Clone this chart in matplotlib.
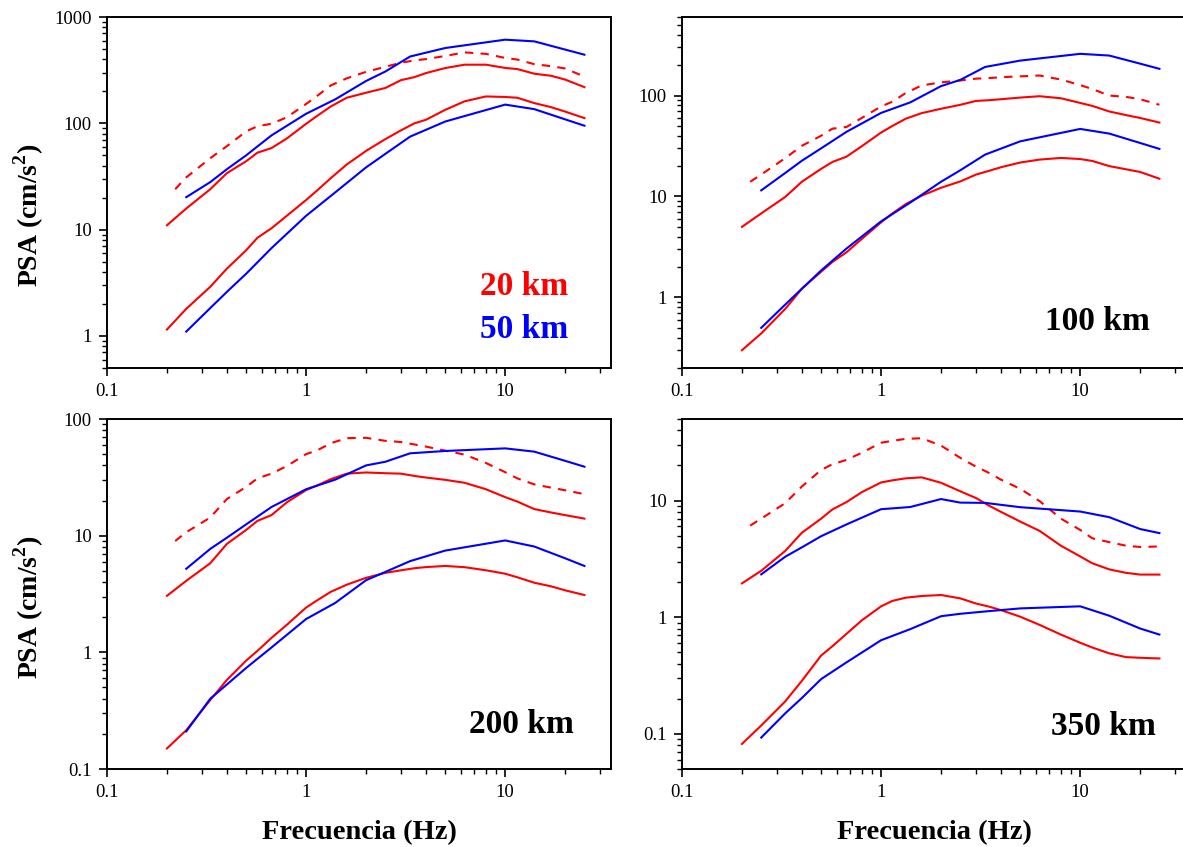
import numpy as np
import matplotlib
matplotlib.use('Agg')
import matplotlib.pyplot as plt
from matplotlib.ticker import LogLocator, FuncFormatter, NullFormatter

plt.rcParams['font.family'] = ['Liberation Serif', 'DejaVu Serif']
plt.rcParams['mathtext.fontset'] = 'custom'
plt.rcParams['mathtext.rm'] = 'Liberation Serif'
plt.rcParams['mathtext.bf'] = 'Liberation Serif:bold'

# frequency grids (Hz)
F_RED = [0.2, 0.25, 0.33, 0.4, 0.5, 0.57, 0.67, 0.8, 1.0, 1.14, 1.33, 1.6, 2.0,
         2.5, 3.0, 3.5, 4.0, 5.0, 6.25, 8.0, 10.0, 11.5, 14.0, 17.0, 20.0, 25.0]
F_DASH = [0.22] + F_RED[1:]
F_BLUE = [0.25, 0.33, 0.4, 0.5, 0.67, 1.0, 1.4, 2.0, 2.5, 3.33, 5.0, 10.0, 14.0, 20.0, 25.0]

# PSA (cm/s2) -- 20 km (red) and 50 km (blue)
r20_hi = [11, 15.8, 24, 34, 44, 53, 58.5, 72, 99, 118, 144, 174, 194, 215, 255, 272,
          297, 331, 356, 356, 332, 324, 293, 280, 258, 219]
r20_lo = [1.15, 1.8, 2.9, 4.3, 6.4, 8.4, 10.3, 13.5, 19, 23.5, 30.5, 41, 55, 71, 86, 100,
          108, 134, 161, 179, 177, 174, 155, 142, 129, 112]
r20_ds = [24, 31, 47, 61, 84, 94, 99, 114, 152, 182, 227, 265, 305, 340, 372, 390,
          402, 430, 465, 450, 412, 398, 360, 345, 328, 275]
b50_hi = [20.2, 28, 37, 50, 77, 123, 168, 250, 307, 425, 511, 612, 590, 494, 442]
b50_lo = [1.1, 1.83, 2.6, 3.85, 6.7, 13.5, 22.4, 38.5, 51.6, 75, 104, 150, 136, 109, 95]

# 100 km
r100_hi = [5.0, 6.8, 9.9, 14, 18.8, 22, 24.8, 31.5, 43, 50, 59, 67, 74, 81, 88.5, 90,
           92, 95.5, 98.5, 94, 84.5, 79, 69.5, 64, 60, 54]
r100_lo = [0.3, 0.44, 0.77, 1.22, 1.8, 2.25, 2.8, 3.8, 5.55, 6.8, 8.4, 10.2, 12.2, 14.1,
           16.5, 18, 19.5, 21.7, 23.2, 24.1, 23.5, 22.5, 20, 18.6, 17.5, 15]
r100_ds = [14, 16.5, 24, 31.8, 40, 47, 48.8, 60, 78, 87, 106, 126, 135, 141, 147, 149,
           152, 155, 158, 144, 127, 116, 100, 97, 92, 81]
b100_hi = [11.5, 17.1, 22.6, 30, 43.7, 67.3, 85.5, 124, 143, 192, 222, 259, 249, 207, 184]
b100_lo = [0.5, 0.85, 1.22, 1.85, 3.05, 5.67, 8.7, 14, 18.2, 26, 35.2, 46.7, 42, 33.9, 29.6]

# 200 km
r200_hi = [3.05, 4.1, 5.8, 8.5, 11.2, 13.4, 15, 19.3, 24.6, 27, 30.5, 34, 34.8, 34.3,
           34, 32.5, 31.5, 30.1, 28.4, 25, 21.4, 19.6, 16.9, 15.8, 15, 14]
r200_lo = [0.15, 0.215, 0.39, 0.58, 0.85, 1.03, 1.33, 1.72, 2.42, 2.8, 3.3, 3.8, 4.35,
           4.8, 5.05, 5.26, 5.38, 5.5, 5.37, 5.05, 4.72, 4.4, 3.95, 3.68, 3.4, 3.1]
r200_ds = [9, 10.7, 14.3, 20.6, 26.2, 31, 34, 39.5, 50, 54, 62, 68.5, 69, 65, 63.5,
           60.5, 58, 53.5, 49.5, 42, 35, 31, 27.5, 25.8, 24.5, 22.7]
b200_hi = [5.2, 7.7, 9.6, 12.5, 17.6, 25, 30.2, 40, 43, 50.8, 53.2, 56, 52.5, 43.8, 39]
b200_lo = [0.21, 0.40, 0.53, 0.735, 1.1, 1.93, 2.65, 4.15, 4.89, 6.05, 7.45, 9.1, 8.07, 6.4, 5.5]

# 350 km
r350_hi = [1.95, 2.5, 3.7, 5.3, 7.0, 8.4, 9.7, 11.8, 14.3, 14.9, 15.5, 15.8, 14.2, 12.0,
           10.5, 9.0, 8.0, 6.6, 5.5, 4.1, 3.32, 2.9, 2.57, 2.4, 2.32, 2.32]
r350_lo = [0.082, 0.118, 0.19, 0.285, 0.47, 0.565, 0.72, 0.94, 1.24, 1.38, 1.47, 1.52,
           1.55, 1.45, 1.31, 1.23, 1.15, 1.01, 0.86, 0.71, 0.604, 0.55, 0.49, 0.455, 0.449, 0.443]
r350_ds = [6.1, 7.0, 9.5, 13.2, 18.3, 20.5, 22.3, 25.7, 31.3, 32.5, 33.8, 34.2, 29.6,
           23.2, 19.5, 17.2, 15.1, 12.6, 9.9, 7.0, 5.6, 4.75, 4.4, 4.1, 4.0, 4.04]
b350_hi = [2.33, 3.3, 3.97, 4.95, 6.24, 8.43, 8.8, 10.3, 9.6, 9.55, 8.77, 8.05, 7.2, 5.7, 5.26]
b350_lo = [0.093, 0.15, 0.203, 0.295, 0.41, 0.635, 0.79, 1.02, 1.07, 1.12, 1.19, 1.24, 1.03, 0.8, 0.71]

RED = '#ff0000'
BLUE = '#0000ff'
W, H = 1183, 847
LW = 1.5


def fmt(v, pos):
    return '%g' % v


def panel(rect, ylim, red_hi, red_lo, red_ds, blue_hi, blue_lo):
    ax = fig.add_axes(rect)
    ax.plot(F_RED, red_hi, color=RED, lw=LW)
    ax.plot(F_RED, red_lo, color=RED, lw=LW)
    ax.plot(F_DASH, red_ds, color=RED, lw=LW, dashes=(4, 3.5))
    ax.plot(F_BLUE, blue_hi, color=BLUE, lw=LW)
    ax.plot(F_BLUE, blue_lo, color=BLUE, lw=LW)
    ax.set_xscale('log')
    ax.set_yscale('log')
    ax.set_xlim(0.1, 34)
    ax.set_ylim(*ylim)
    for a in (ax.xaxis, ax.yaxis):
        a.set_major_locator(LogLocator(base=10))
        a.set_minor_locator(LogLocator(base=10, subs=np.arange(2, 10)))
        a.set_major_formatter(FuncFormatter(fmt))
        a.set_minor_formatter(NullFormatter())
    ax.tick_params(which='major', direction='out', length=6, width=1.2,
                   labelsize=13.5, pad=5, top=False, right=False)
    ax.tick_params(which='minor', direction='out', length=3.5, width=1.0,
                   top=False, right=False)
    for s in ax.spines.values():
        s.set_linewidth(1.4)
    return ax


def box(l, t, r, b):
    return [l / W, 1 - b / H, (r - l) / W, (b - t) / H]


fig = plt.figure(figsize=(W / 100, H / 100), dpi=100)

ax1 = panel(box(107, 17, 611, 368), (0.5, 1000), r20_hi, r20_lo, r20_ds, b50_hi, b50_lo)
ax2 = panel(box(682, 17, 1186, 368), (0.2, 600), r100_hi, r100_lo, r100_ds, b100_hi, b100_lo)
ax3 = panel(box(107, 419, 611, 769), (0.1, 100), r200_hi, r200_lo, r200_ds, b200_hi, b200_lo)
ax4 = panel(box(682, 419, 1186, 769), (0.05, 50), r350_hi, r350_lo, r350_ds, b350_hi, b350_lo)

lab = dict(fontsize=24, fontweight='bold', ha='right', va='baseline')
ax1.text(0.915, 0.208, '20 km', color=RED, transform=ax1.transAxes, **lab)
ax1.text(0.915, 0.085, '50 km', color=BLUE, transform=ax1.transAxes, **lab)
ax2.text(0.929, 0.108, '100 km', color='black', transform=ax2.transAxes, **lab)
ax3.text(0.927, 0.103, '200 km', color='black', transform=ax3.transAxes, **lab)
ax4.text(0.94, 0.097, '350 km', color='black', transform=ax4.transAxes, **lab)

ylab = r'PSA (cm/s$^{\mathbf{2}}$)'
fig.text(29 / W, 1 - 215 / H, ylab, rotation=90, ha='center', va='center',
         fontsize=20, fontweight='bold')
fig.text(29 / W, 1 - 607 / H, ylab, rotation=90, ha='center', va='center',
         fontsize=20, fontweight='bold')
fig.text(359 / W, 1 - 833 / H, 'Frecuencia (Hz)', ha='center', va='center',
         fontsize=20.5, fontweight='bold')
fig.text(934 / W, 1 - 833 / H, 'Frecuencia (Hz)', ha='center', va='center',
         fontsize=20.5, fontweight='bold')

fig.savefig('out.png', dpi=100)
